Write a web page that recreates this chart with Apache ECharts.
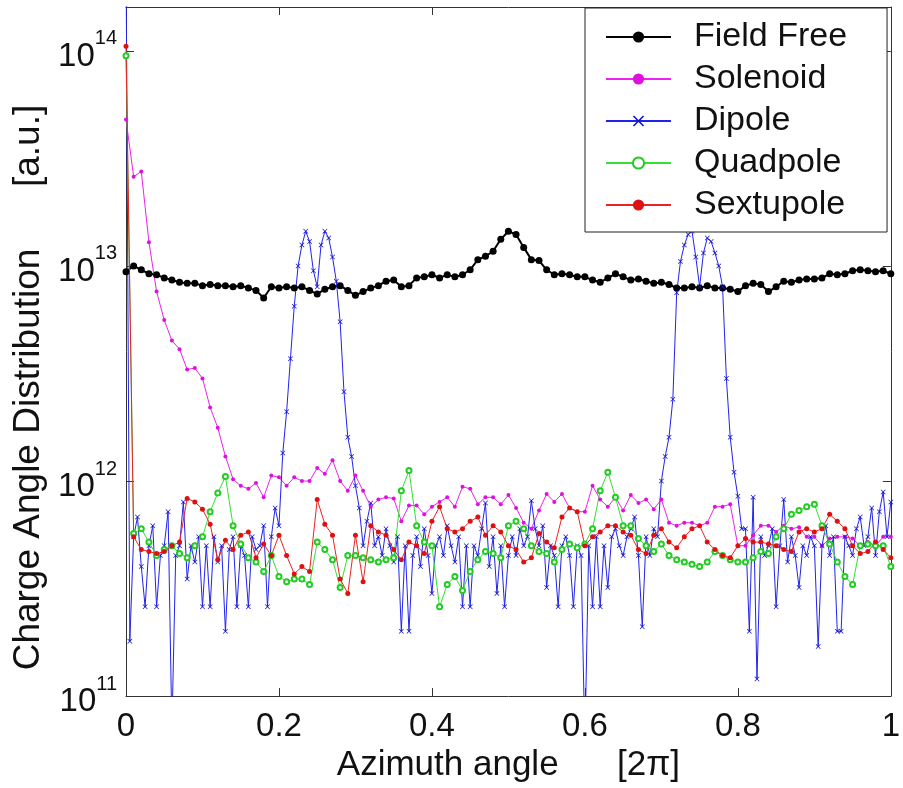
<!DOCTYPE html>
<html>
<head>
<meta charset="utf-8">
<title>Charge Angle Distribution</title>
<script src="https://cdn.jsdelivr.net/npm/echarts@6/dist/echarts.min.js"></script>
<style>
html, body { margin: 0; padding: 0; background: #fff; }
#chart { width: 903px; height: 788px; }
</style>
</head>
<body>
<div id="chart"></div>
<script>
// values are in units of 10^12 [a.u.]
// Field Free, Solenoid, Quadpole, Sextupole: one sample every 0.01 of the azimuth
var stepCoarse = 0.01;
// Dipole: one sample every 0.005
var stepFine = 0.005;

var fieldFree = [
	9.4, 10.0, 9.6, 9.2, 9.1, 8.8, 8.6, 8.4, 8.3, 8.3,
	8.1, 8.2, 8.1, 8.1, 8.0, 8.1, 7.9, 7.7, 7.1, 8.0,
	7.9, 8.0, 7.9, 8.0, 7.7, 7.4, 7.8, 8.0, 8.1, 7.7,
	7.3, 7.6, 7.9, 8.1, 8.5, 8.6, 8.0, 8.1, 8.8, 8.9,
	9.1, 8.8, 9.1, 8.9, 9.1, 9.6, 10.7, 11.1, 11.7, 13.3,
	14.5, 14.0, 12.2, 10.7, 10.6, 9.6, 9.1, 9.2, 9.1, 8.9,
	8.9, 8.6, 8.4, 8.8, 9.2, 8.9, 8.6, 8.7, 8.5, 8.3,
	8.4, 8.2, 7.9, 7.9, 8.0, 7.9, 8.1, 7.9, 7.9, 7.8,
	7.6, 8.1, 8.3, 8.2, 7.6, 8.0, 8.5, 8.4, 8.6, 8.7,
	8.7, 8.8, 9.2, 9.1, 9.2, 9.5, 9.6, 9.5, 9.4, 9.5,
	9.2
];

var solenoid = [
	48, 26, 27.5, 12.9, 7.6, 5.6, 4.5, 4.1, 3.3, 3.35,
	3.0, 2.2, 1.77, 1.3, 1.02, 0.95, 0.92, 0.98, 0.84, 1.06,
	1.04, 0.95, 1.04, 1.0, 1.0, 1.15, 1.08, 1.25, 1.0, 0.9,
	1.06, 0.9, 0.76, 0.82, 0.84, 0.83, 0.65, 0.77, 0.77, 0.7,
	0.76, 0.8, 0.84, 0.76, 0.94, 0.92, 0.78, 0.84, 0.84, 0.78,
	0.86, 0.75, 0.64, 0.6, 0.73, 0.87, 0.8, 0.87, 0.75, 0.72,
	0.72, 0.95, 0.82, 0.76, 0.84, 0.73, 0.86, 0.79, 0.82, 0.74,
	0.82, 0.64, 0.62, 0.64, 0.64, 0.62, 0.64, 0.76, 0.76, 0.78,
	0.5, 0.5, 0.56, 0.62, 0.62, 0.58, 0.62, 0.6, 0.61, 0.55,
	0.55, 0.5, 0.54, 0.55, 0.55, 0.54, 0.5, 0.52, 0.5, 0.55,
	0.55
];

var dipole = [
	300, 0.18, 0.55, 0.68, 0.4, 0.26, 0.5, 0.62, 0.26, 0.45,
	0.5, 0.72, 0.07, 0.45, 0.5, 0.8, 0.35, 0.5, 0.42, 0.55,
	0.26, 0.5, 0.26, 0.55, 0.42, 0.5, 0.2, 0.48, 0.55, 0.26,
	0.5, 0.45, 0.26, 0.55, 0.48, 0.5, 0.62, 0.26, 0.55, 0.75,
	0.62, 1.35, 2.1, 3.7, 6.5, 10.0, 12.5, 14.5, 13.0, 9.5,
	8.0, 12.5, 14.5, 13.5, 11.0, 8.5, 5.5, 2.6, 1.6, 1.3,
	0.95, 0.75, 0.5, 0.65, 0.79, 0.5, 0.55, 0.45, 0.6, 0.5,
	0.42, 0.55, 0.2, 0.5, 0.2, 0.45, 0.55, 0.4, 0.6, 0.45,
	0.3, 0.5, 0.55, 0.45, 0.62, 0.5, 0.42, 0.55, 0.26, 0.5,
	0.26, 0.5, 0.45, 0.6, 0.79, 0.4, 0.55, 0.3, 0.5, 0.26,
	0.45, 0.55, 0.45, 0.6, 0.5, 0.55, 0.81, 0.6, 0.5, 0.62,
	0.32, 0.5, 0.45, 0.26, 0.5, 0.55, 0.45, 0.26, 0.5, 0.45,
	0.06, 0.5, 0.26, 0.55, 0.26, 0.5, 0.32, 0.55, 0.6, 0.5,
	0.45, 0.55, 0.6, 0.68, 0.45, 0.21, 0.55, 0.45, 0.6, 0.55,
	1.0, 1.3, 1.6, 2.4, 7.5, 10.5, 12.5, 14.0, 14.5, 11.0,
	8.0, 11.5, 13.5, 13.0, 11.5, 10.0, 8.0, 3.0, 1.6, 1.1,
	0.85, 0.6, 0.6, 0.2, 0.84, 0.12, 0.55, 0.45, 0.5, 0.6,
	0.26, 0.5, 0.82, 0.42, 0.55, 0.45, 0.32, 0.5, 0.45, 0.55,
	0.5, 0.17, 0.5, 0.62, 0.45, 0.55, 0.2, 0.2, 0.55, 0.5,
	0.45, 0.6, 0.68, 0.5, 0.55, 0.75, 0.45, 0.72, 0.89, 0.55,
	0.8
];

var quadpole = [
	95, 0.57, 0.6, 0.52, 0.45, 0.48, 0.5, 0.46, 0.44, 0.5,
	0.55, 0.72, 0.88, 1.05, 0.62, 0.51, 0.44, 0.42, 0.38, 0.45,
	0.36, 0.34, 0.35, 0.35, 0.33, 0.52, 0.48, 0.43, 0.32, 0.45,
	0.45, 0.44, 0.43, 0.42, 0.43, 0.44, 0.9, 1.12, 0.62, 0.52,
	0.5, 0.26, 0.33, 0.36, 0.31, 0.38, 0.43, 0.47, 0.46, 0.44,
	0.62, 0.65, 0.6, 0.5, 0.47, 0.46, 0.42, 0.48, 0.51, 0.49,
	0.51, 0.6, 0.9, 1.1, 0.84, 0.62, 0.62, 0.54, 0.5, 0.47,
	0.51, 0.45, 0.43, 0.42, 0.41, 0.4, 0.42, 0.47, 0.45, 0.43,
	0.42, 0.42, 0.44, 0.47, 0.46, 0.55, 0.6, 0.7, 0.73, 0.76,
	0.78, 0.62, 0.51, 0.42, 0.36, 0.33, 0.5, 0.51, 0.5, 0.5,
	0.4
];

var sextupole = [
	105, 0.55, 0.48, 0.47, 0.46, 0.47, 0.5, 0.52, 0.83, 0.8,
	0.74, 0.63, 0.43, 0.53, 0.48, 0.56, 0.58, 0.44, 0.51, 0.45,
	0.56, 0.45, 0.37, 0.4, 0.38, 0.82, 0.63, 0.56, 0.35, 0.3,
	0.56, 0.34, 0.62, 0.58, 0.56, 0.48, 0.43, 0.52, 0.5, 0.46,
	0.65, 0.76, 0.6, 0.58, 0.6, 0.65, 0.68, 0.56, 0.62, 0.58,
	0.5, 0.48, 0.42, 0.44, 0.57, 0.52, 0.49, 0.68, 0.75, 0.72,
	0.5, 0.55, 0.58, 0.62, 0.62, 0.58, 0.56, 0.48, 0.46, 0.56,
	0.6, 0.52, 0.49, 0.55, 0.6, 0.62, 0.52, 0.48, 0.45, 0.44,
	0.5, 0.54, 0.52, 0.52, 0.51, 0.5, 0.48, 0.47, 0.58, 0.6,
	0.58, 0.6, 0.7, 0.65, 0.6, 0.5, 0.46, 0.47, 0.52, 0.48,
	0.44
];

var seriesNames = ['Field Free', 'Solenoid', 'Dipole', 'Quadpole', 'Sextupole'];

var font = 'Liberation Sans, Arial, sans-serif';
var axisColor = '#333';
var textColor = '#111';

// [angle, value] pairs for a regularly sampled series
function pairs(values, step) {
	return values.map(function (v, i) {
		return [+(i * step).toFixed(3), v];
	});
}

// 10^n tick labels (axis in units of 10^12)
function powerLabel(value) {
	var e = Math.log10(value);
	var r = Math.round(e);
	if (Math.abs(e - r) > 1e-6) return '';
	return '{b|10}{s|' + (r + 12) + '}';
}

var myChart = echarts.init(document.getElementById('chart'));
var option = {
	animation: false,
	backgroundColor: '#fff',
	grid: {
		left: 126,
		right: 10,
		top: 7,
		bottom: 87
	},
	legend: {
		data: seriesNames,
		orient: 'vertical',
		left: 585,
		top: 8,
		itemWidth: 65,
		itemHeight: 14,
		itemGap: 8,
		padding: [12, 40, 10, 20],
		borderColor: '#222',
		borderWidth: 1,
		backgroundColor: '#fff',
		textStyle: {
			fontSize: 34,
			fontFamily: font,
			color: textColor,
			padding: [0, 0, 0, 18]
		}
	},
	xAxis: [{
		type: 'value',
		min: 0,
		max: 1,
		interval: 0.2,
		name: 'Azimuth angle      [2π]',
		nameLocation: 'middle',
		nameGap: 48,
		nameTextStyle: {
			fontSize: 35,
			fontFamily: font,
			color: textColor
		},
		axisLine: {
			show: true,
			onZero: false,
			lineStyle: { color: axisColor, width: 1 }
		},
		axisTick: {
			inside: true,
			length: 8,
			lineStyle: { color: axisColor }
		},
		axisLabel: {
			fontSize: 33,
			fontFamily: font,
			color: textColor,
			margin: 14
		},
		splitLine: { show: false }
	}, {
		type: 'value',
		position: 'top',
		min: 0,
		max: 1,
		interval: 0.2,
		axisLine: {
			show: true,
			onZero: false,
			lineStyle: { color: axisColor, width: 1 }
		},
		axisTick: {
			inside: true,
			length: 8,
			lineStyle: { color: axisColor }
		},
		axisLabel: { show: false },
		splitLine: { show: false }
	}],
	yAxis: [{
		type: 'log',
		logBase: 10,
		min: 0.1,
		max: 160,
		name: 'Charge Angle Distribution      [a.u.]',
		nameLocation: 'middle',
		nameGap: 78,
		nameTextStyle: {
			fontSize: 37,
			fontFamily: font,
			color: textColor,
			padding: [0, 72, 0, 0]
		},
		axisLine: {
			show: true,
			onZero: false,
			lineStyle: { color: axisColor, width: 1 }
		},
		axisTick: {
			inside: true,
			length: 8,
			lineStyle: { color: axisColor }
		},
		axisLabel: {
			margin: 9,
			formatter: powerLabel,
			rich: {
				b: { fontSize: 33, fontFamily: font, color: textColor, padding: [12, 0, 0, 0] },
				s: { fontSize: 20, fontFamily: font, color: textColor, padding: [0, 0, 24, 0] }
			}
		},
		splitLine: { show: false }
	}, {
		type: 'log',
		logBase: 10,
		min: 0.1,
		max: 160,
		position: 'right',
		axisLine: {
			show: true,
			onZero: false,
			lineStyle: { color: axisColor, width: 1 }
		},
		axisTick: {
			inside: true,
			length: 8,
			lineStyle: { color: axisColor }
		},
		axisLabel: { show: false },
		splitLine: { show: false }
	}],
	series: [{
		name: 'Field Free',
		type: 'line',
		data: pairs(fieldFree, stepCoarse),
		symbol: 'circle',
		symbolSize: 7,
		lineStyle: { color: '#000', width: 2 },
		itemStyle: { color: '#000' }
	}, {
		name: 'Solenoid',
		type: 'line',
		data: pairs(solenoid, stepCoarse),
		symbol: 'circle',
		symbolSize: 4,
		lineStyle: { color: '#ee22ee', width: 1 },
		itemStyle: { color: '#dd11dd' }
	}, {
		name: 'Dipole',
		type: 'line',
		data: pairs(dipole, stepFine),
		symbol: 'path://M1,0L5,4L9,0L10,1L6,5L10,9L9,10L5,6L1,10L0,9L4,5L0,1Z',
		symbolSize: 5,
		lineStyle: { color: '#2222ee', width: 1 },
		itemStyle: { color: '#1111cc' }
	}, {
		name: 'Quadpole',
		type: 'line',
		data: pairs(quadpole, stepCoarse),
		symbol: 'emptyCircle',
		symbolSize: 5,
		lineStyle: { color: '#33e033', width: 1 },
		itemStyle: { color: '#22cc22', borderWidth: 1 }
	}, {
		name: 'Sextupole',
		type: 'line',
		data: pairs(sextupole, stepCoarse),
		symbol: 'circle',
		symbolSize: 5,
		lineStyle: { color: '#ee2222', width: 1 },
		itemStyle: { color: '#dd1111' }
	}]
};
myChart.setOption(option);
window.addEventListener('resize', function () {
	myChart.resize();
});
</script>
</body>
</html>
